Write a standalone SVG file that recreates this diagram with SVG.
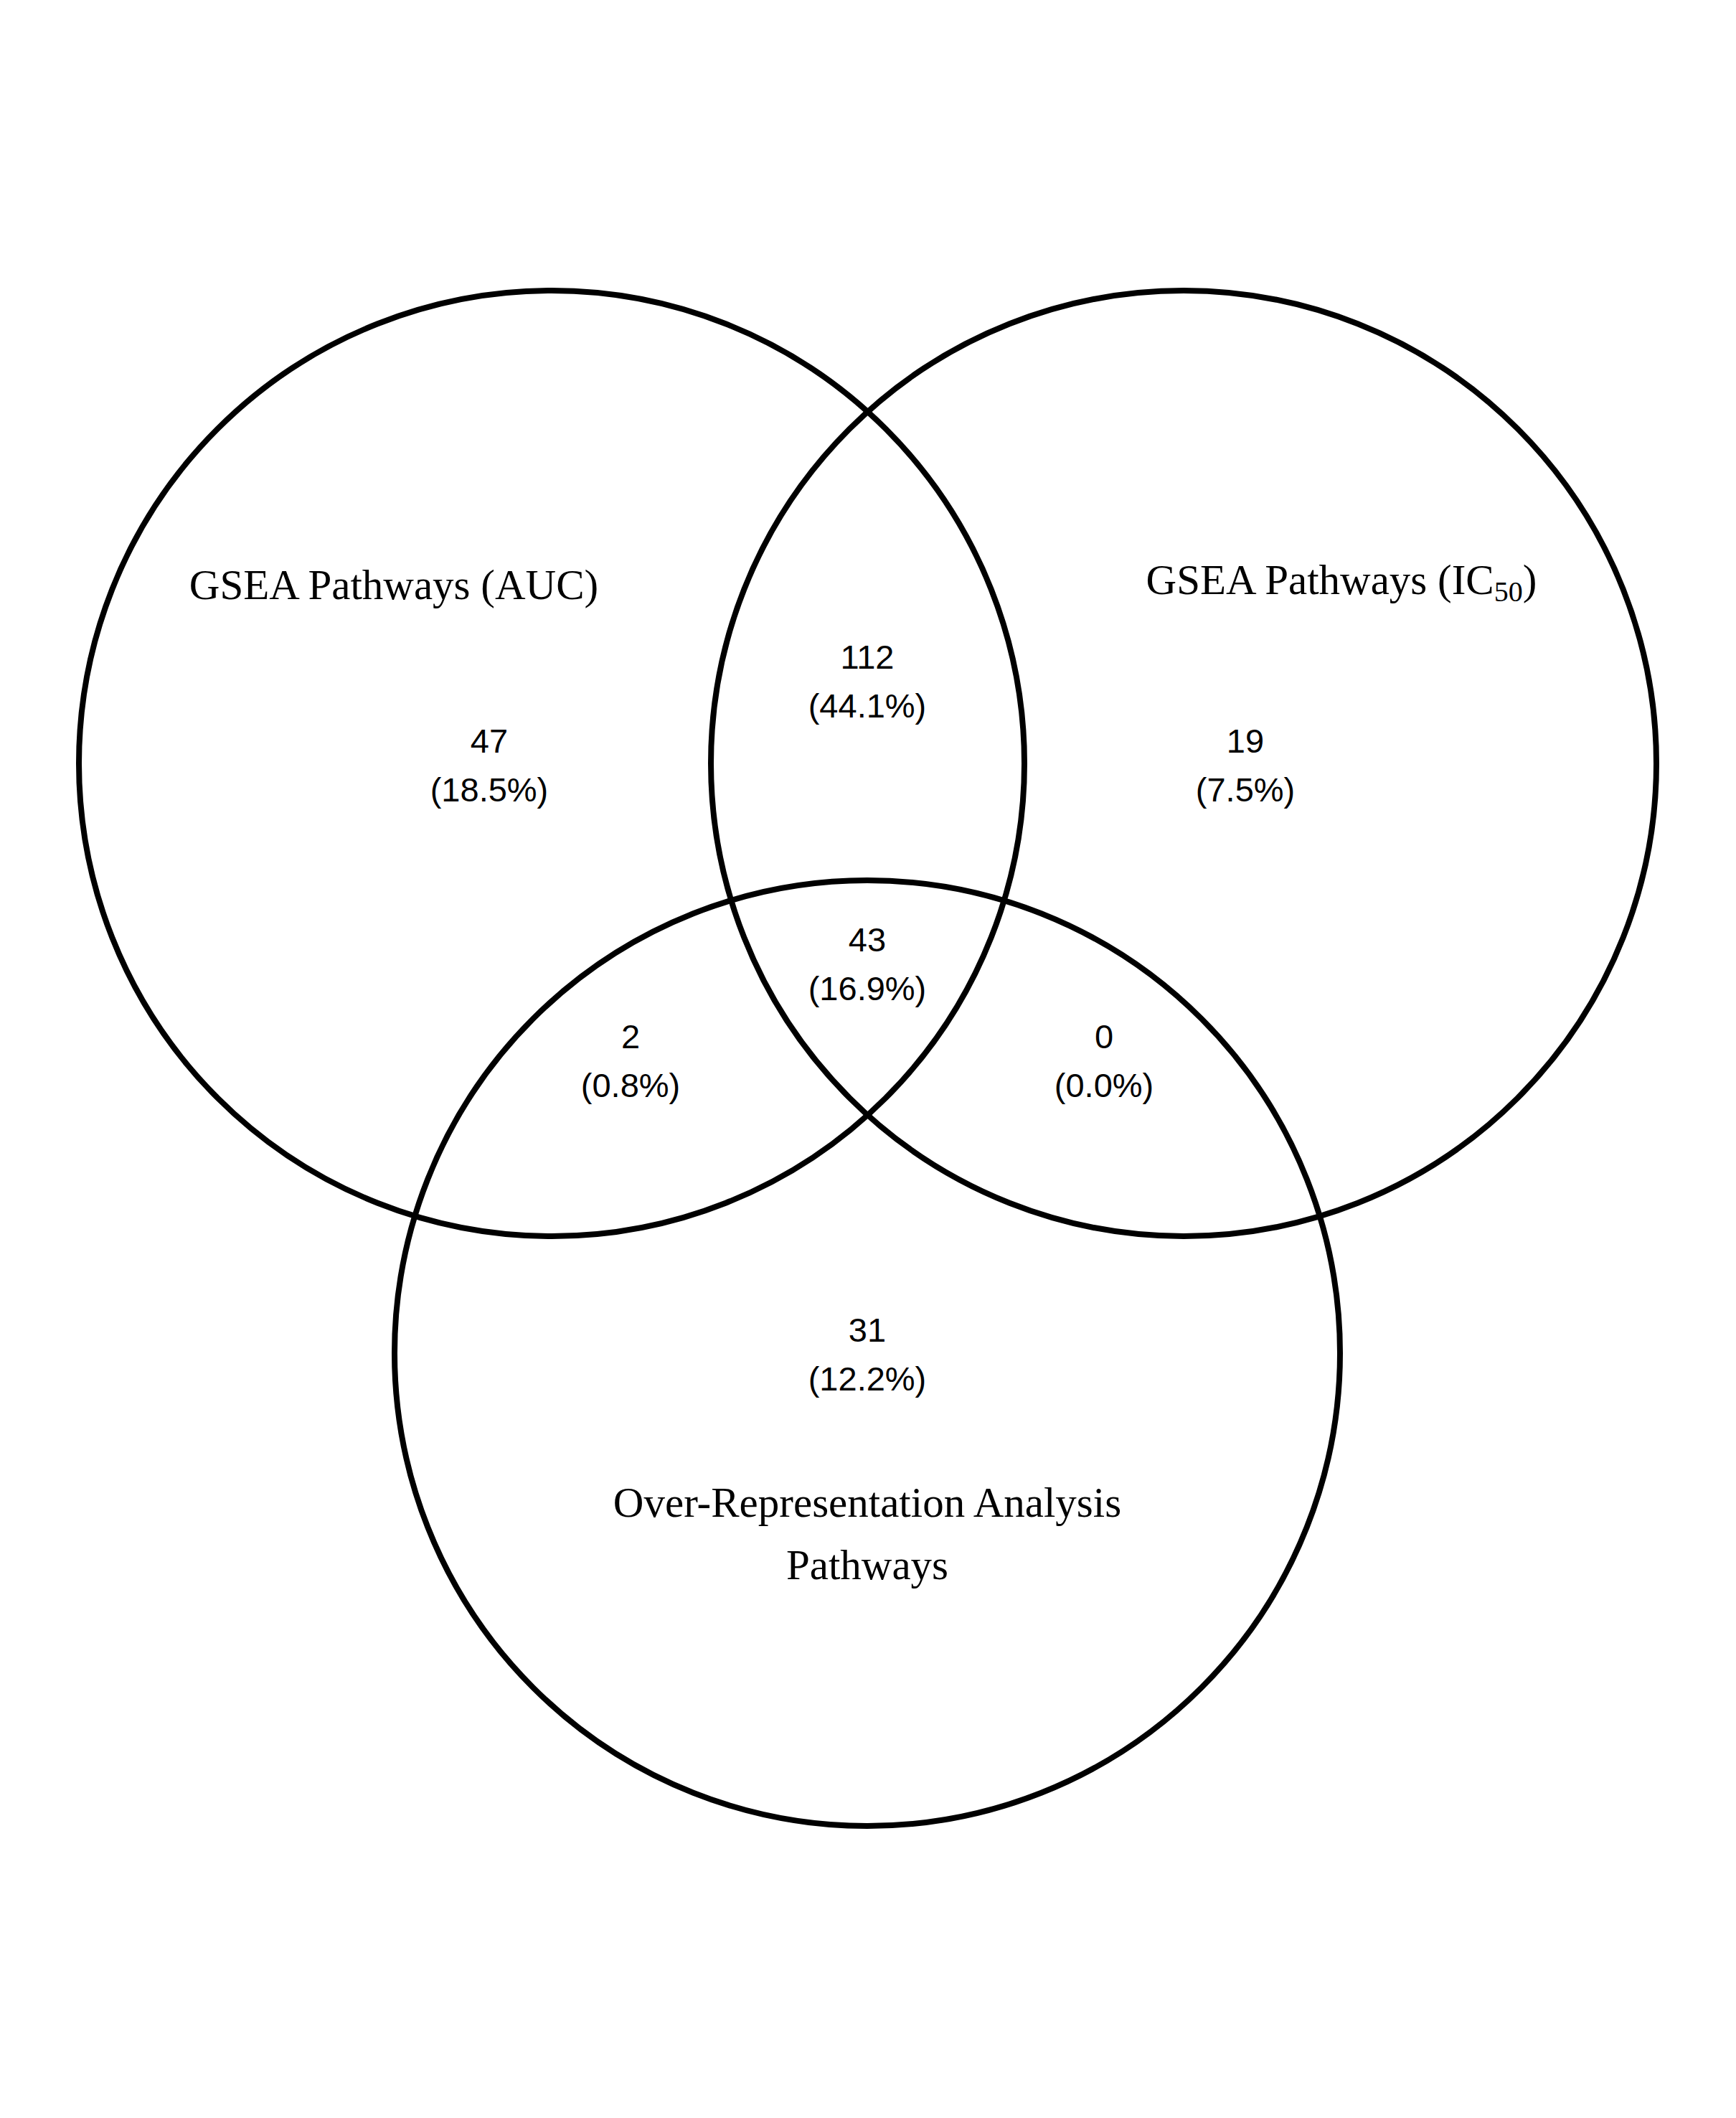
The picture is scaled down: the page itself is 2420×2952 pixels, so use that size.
<svg xmlns="http://www.w3.org/2000/svg" width="2420" height="2952" viewBox="0 0 2420 2952">
<style>
.c{fill:none;stroke:#000;stroke-width:8}
.t{font-family:"Liberation Serif","Times New Roman",serif;font-size:59px;fill:#000;text-anchor:middle}
.n{font-family:"Liberation Sans",Arial,sans-serif;font-size:47px;fill:#000;text-anchor:middle}
</style>
<rect width="2420" height="2952" fill="#fff"/>
<g id="set-auc"><circle class="c" cx="769" cy="1064" r="659"/><text class="t" x="549" y="835">GSEA Pathways (AUC)</text></g>
<g id="set-ic50"><circle class="c" cx="1650" cy="1064" r="659"/><text class="t" x="1870" y="828">GSEA Pathways (IC<tspan font-size="40" dy="10">50</tspan><tspan dy="-10">)</tspan></text></g>
<g id="set-ora"><circle class="c" cx="1209" cy="1886" r="659"/><text class="t" x="1209" y="2114">Over-Representation Analysis</text><text class="t" x="1209" y="2201">Pathways</text></g>
<g id="regions">
<text class="n" x="682" y="1049">47</text><text class="n" x="682" y="1117">(18.5%)</text>
<text class="n" x="1209" y="932">112</text><text class="n" x="1209" y="1000">(44.1%)</text>
<text class="n" x="1736" y="1049">19</text><text class="n" x="1736" y="1117">(7.5%)</text>
<text class="n" x="1209" y="1326">43</text><text class="n" x="1209" y="1394">(16.9%)</text>
<text class="n" x="879" y="1461">2</text><text class="n" x="879" y="1529">(0.8%)</text>
<text class="n" x="1539" y="1461">0</text><text class="n" x="1539" y="1529">(0.0%)</text>
<text class="n" x="1209" y="1870">31</text><text class="n" x="1209" y="1938">(12.2%)</text>
</g>
</svg>
